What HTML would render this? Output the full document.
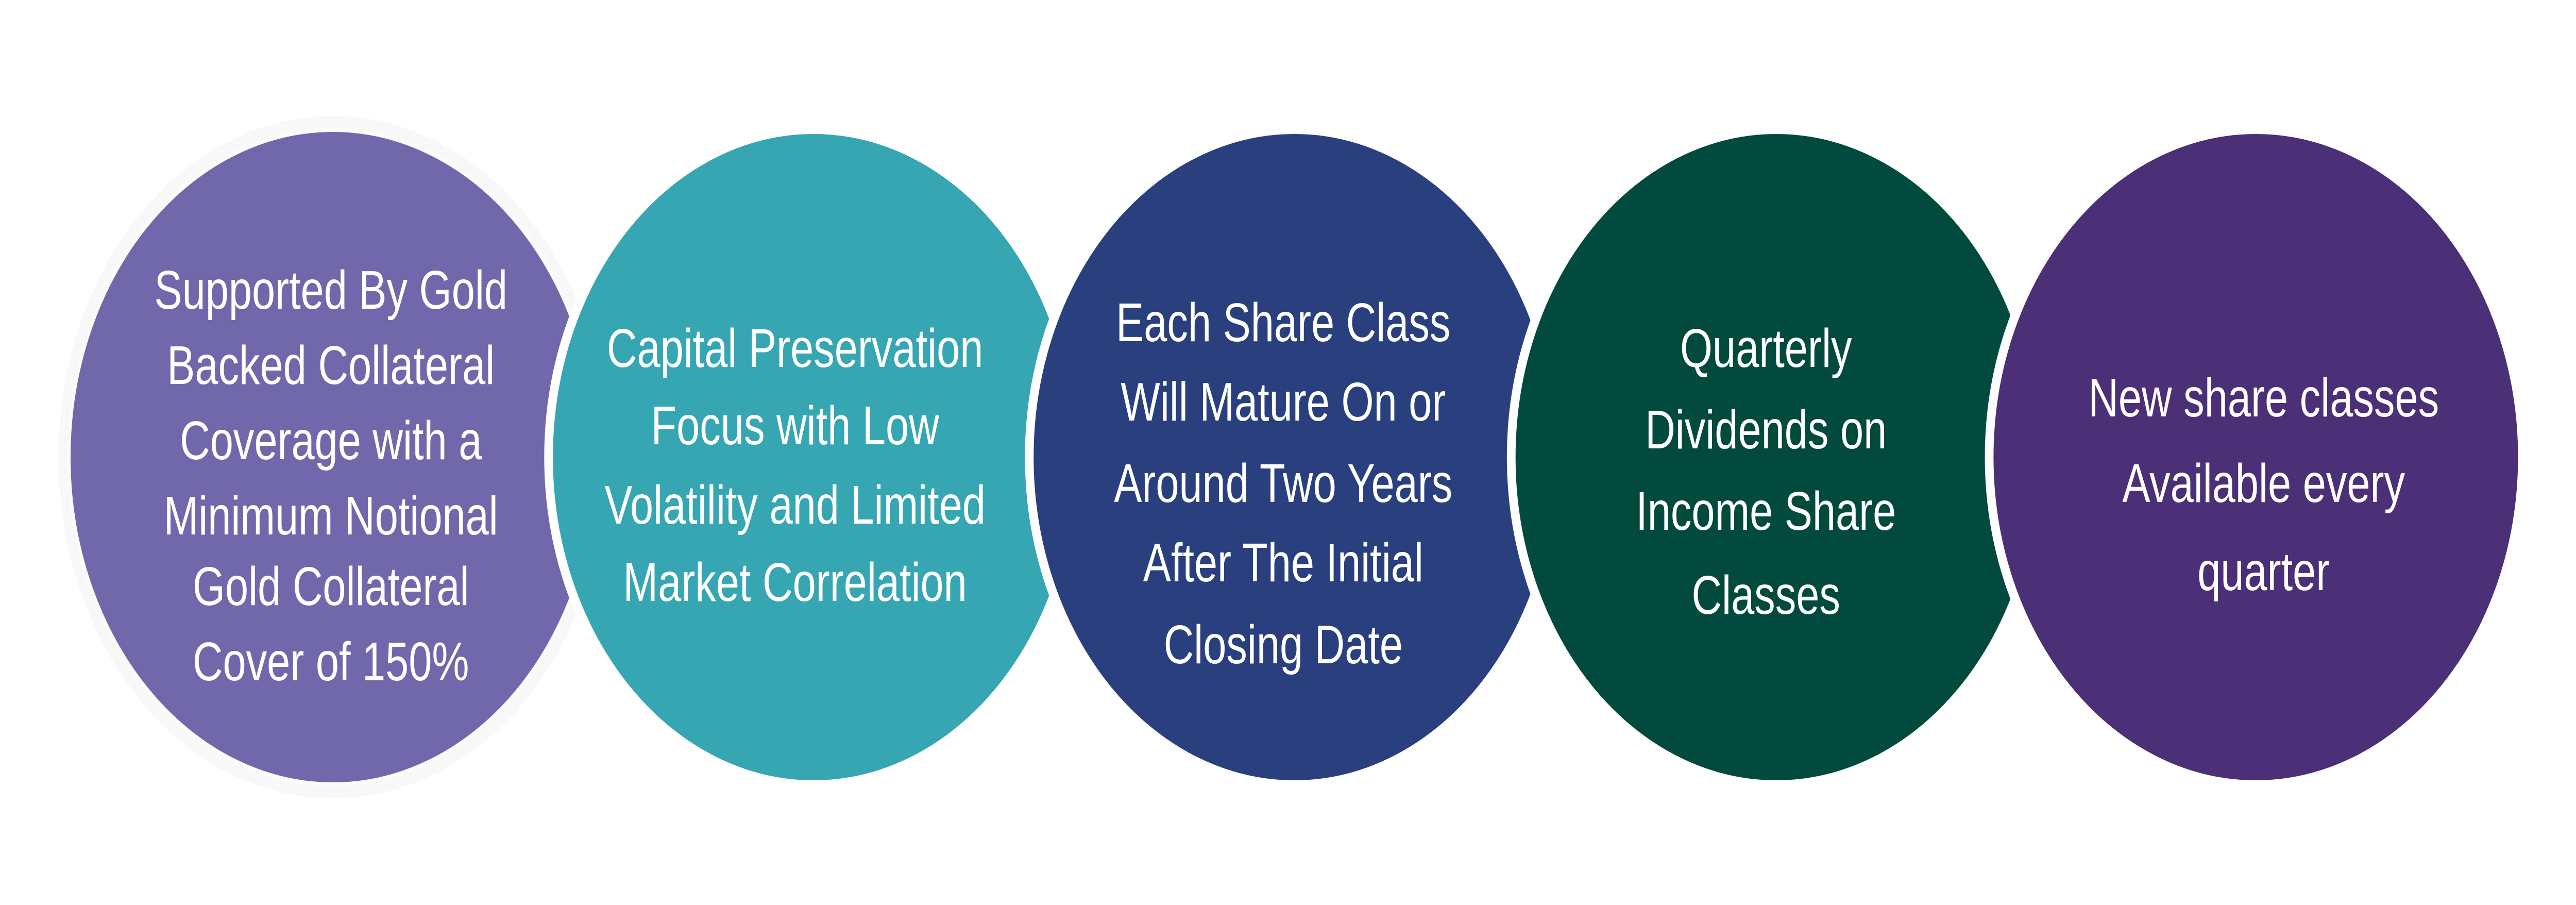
<!DOCTYPE html>
<html><head><meta charset="utf-8"><style>
html,body{margin:0;padding:0;background:#fff;width:100%;height:100%;overflow:hidden;}
svg{display:block;position:absolute;left:0;top:0;width:100vw;height:100vh;}
text{font-family:"Liberation Sans",sans-serif;font-size:106px;fill:#fff;text-anchor:middle;}
</style></head><body>
<svg viewBox="0 0 6532 1756" preserveAspectRatio="none" xmlns="http://www.w3.org/2000/svg">
<rect width="6532" height="1756" fill="#fff"/>
<ellipse cx="844" cy="887" rx="696" ry="662" fill="#f8f8f8"/>
<ellipse cx="844" cy="887" rx="669" ry="635" fill="#7168AB" stroke="#fbfbfb" stroke-width="8"/>
<ellipse cx="2063" cy="887" rx="672" ry="638" fill="#36A6B3" stroke="#fff" stroke-width="22"/>
<ellipse cx="3282" cy="887" rx="672" ry="638" fill="#2A3F7E" stroke="#fff" stroke-width="22"/>
<ellipse cx="4504" cy="887" rx="672" ry="638" fill="#024A3E" stroke="#fff" stroke-width="22"/>
<ellipse cx="5720" cy="887" rx="676" ry="638" fill="#4B2F77" stroke="#fff" stroke-width="22"/>
<g>
<text x="839" y="599">Supported By Gold</text>
<text x="839" y="745">Backed Collateral</text>
<text x="839" y="891">Coverage with a</text>
<text x="839" y="1037">Minimum Notional</text>
<text x="839" y="1174">Gold Collateral</text>
<text x="839" y="1320">Cover of 150%</text>
</g>
<g>
<text x="2016" y="712">Capital Preservation</text>
<text x="2016" y="862">Focus with Low</text>
<text x="2016" y="1016">Volatility and Limited</text>
<text x="2016" y="1166">Market Correlation</text>
</g>
<g>
<text x="3254" y="662">Each Share Class</text>
<text x="3254" y="816">Will Mature On or</text>
<text x="3254" y="974">Around Two Years</text>
<text x="3254" y="1128">After The Initial</text>
<text x="3254" y="1287">Closing Date</text>
</g>
<g>
<text x="4478" y="712">Quarterly</text>
<text x="4478" y="870">Dividends on</text>
<text x="4478" y="1028">Income Share</text>
<text x="4478" y="1191">Classes</text>
</g>
<g>
<text x="5740" y="808">New share classes</text>
<text x="5740" y="974">Available every</text>
<text x="5740" y="1145">quarter</text>
</g>
</svg>
</body></html>
